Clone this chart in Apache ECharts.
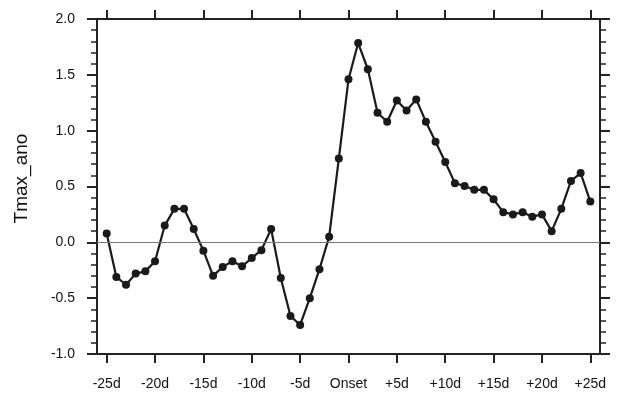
<!DOCTYPE html>
<html>
<head>
<meta charset="utf-8">
<title>Tmax_ano</title>
<script src="https://cdn.jsdelivr.net/npm/echarts@6/dist/echarts.min.js"></script>
<style>
  html, body { margin: 0; padding: 0; background: #fff; }
  #chart { width: 617px; height: 395px; }
</style>
</head>
<body>
<div id="chart"></div>
<script>
// 日期偏移（相对 Onset 的天数）
var days = [-25, -24, -23, -22, -21, -20, -19, -18, -17, -16,
            -15, -14, -13, -12, -11, -10, -9, -8, -7, -6,
            -5, -4, -3, -2, -1, 0, 1, 2, 3, 4,
            5, 6, 7, 8, 9, 10, 11, 12, 13, 14,
            15, 16, 17, 18, 19, 20, 21, 22, 23, 24, 25];
// Tmax 距平
var tmaxAno = [0.08, -0.31, -0.38, -0.28, -0.26, -0.17, 0.15, 0.30, 0.30, 0.12,
               -0.075, -0.30, -0.22, -0.17, -0.215, -0.14, -0.07, 0.12, -0.32, -0.66,
               -0.74, -0.50, -0.24, 0.05, 0.75, 1.46, 1.785, 1.55, 1.16, 1.08,
               1.27, 1.18, 1.28, 1.08, 0.90, 0.72, 0.53, 0.505, 0.47, 0.47,
               0.385, 0.27, 0.25, 0.27, 0.23, 0.25, 0.10, 0.30, 0.55, 0.62, 0.365];
// x 轴刻度
var xTicks = [-25, -20, -15, -10, -5, 0, 5, 10, 15, 20, 25];

(function () {
    var myChart = echarts.init(document.getElementById('chart'));
    var ink = '#222';
    var font = 'Liberation Sans, Arial, Helvetica, sans-serif';

    function dayLabel(v) {
        if (v === 0) return 'Onset';
        return (v > 0 ? '+' : '') + v + 'd';
    }

    var points = days.map(function (d, i) { return [d, tmaxAno[i]]; });

    function xAxisCfg(pos, showLabel) {
        return {
            type: 'value',
            position: pos,
            min: -26,
            max: 26,
            axisLine: { show: true, onZero: false, lineStyle: { color: ink, width: 2 } },
            axisTick: { show: true, inside: false, length: 9, customValues: xTicks,
                        lineStyle: { color: ink, width: 2 } },
            axisLabel: { show: showLabel, customValues: xTicks, margin: 23,
                         color: '#111', fontSize: 14, fontFamily: font,
                         formatter: dayLabel },
            splitLine: { show: false }
        };
    }

    function yAxisCfg(pos, showLabel) {
        return {
            type: 'value',
            position: pos,
            min: -1,
            max: 2,
            interval: 0.5,
            name: showLabel ? 'Tmax_ano' : '',
            nameLocation: 'middle',
            nameRotate: 90,
            nameGap: 66,
            nameTextStyle: { color: '#111', fontSize: 19, fontFamily: font,
                             padding: [0, 0, 0, 16] },
            axisLine: { show: true, onZero: false, lineStyle: { color: ink, width: 2 } },
            axisTick: { show: true, inside: false, length: 10, lineStyle: { color: ink, width: 2 } },
            minorTick: { show: true, splitNumber: 5, length: 6, lineStyle: { color: ink, width: 1.5 } },
            axisLabel: { show: showLabel, margin: 22, color: '#111', fontSize: 14, fontFamily: font,
                         formatter: function (v) { return v.toFixed(1); } },
            splitLine: { show: false },
            minorSplitLine: { show: false }
        };
    }

    var option = {
        animation: false,
        backgroundColor: '#fff',
        grid: { left: 97, right: 17, top: 19, bottom: 41, containLabel: false },
        xAxis: [xAxisCfg('bottom', true), xAxisCfg('top', false)],
        yAxis: [yAxisCfg('left', true), yAxisCfg('right', false)],
        series: [
            {
                type: 'line',
                data: points,
                symbol: 'circle',
                symbolSize: 8,
                lineStyle: { color: '#1a1a1a', width: 2.2 },
                itemStyle: { color: '#1a1a1a' },
                markLine: {
                    silent: true,
                    symbol: 'none',
                    label: { show: false },
                    lineStyle: { color: '#777', width: 1.2, type: 'solid' },
                    data: [{ yAxis: 0 }]
                },
                z: 3
            }
        ]
    };
    myChart.setOption(option);
})();
</script>
</body>
</html>
